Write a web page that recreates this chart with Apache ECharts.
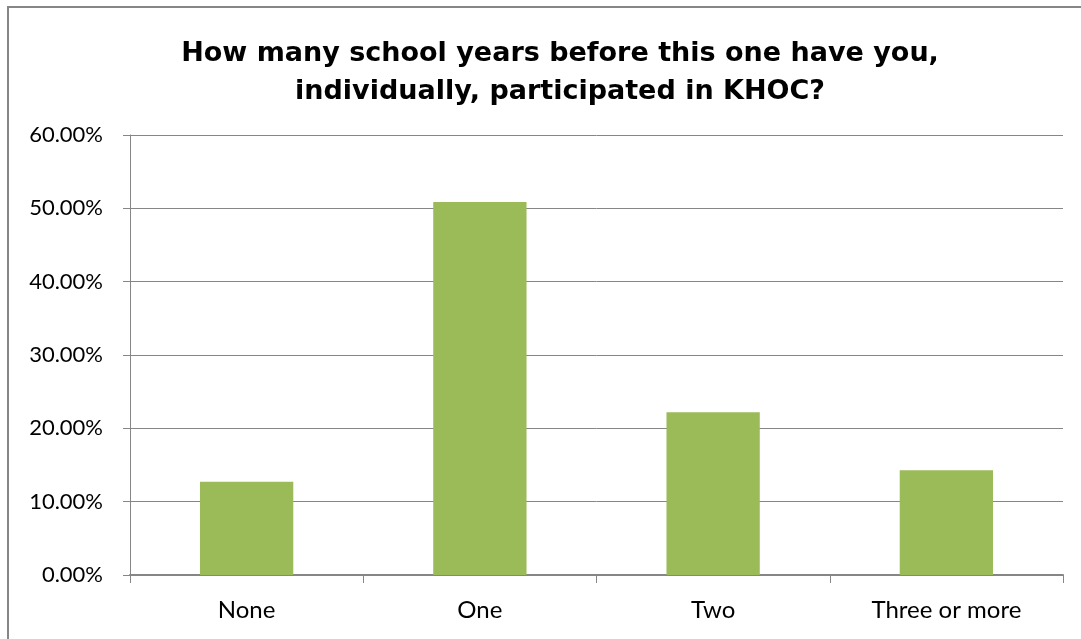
<!DOCTYPE html>
<html>
<head>
<meta charset="utf-8">
<script src="https://cdn.jsdelivr.net/npm/echarts@6/dist/echarts.min.js"></script>
<style>
  html, body { margin: 0; padding: 0; background: #fff; }
  #chart { width: 1081px; height: 639px; }
</style>
</head>
<body>
<div id="chart"></div>
<script>
// Survey answers: prior school years of KHOC participation
const categories = ['None', 'One', 'Two', 'Three or more'];
const shares = [12.7, 50.85, 22.2, 14.3];   // percent of respondents
const titleText = 'How many school years before this one have you,\nindividually, participated in KHOC?';

const chart = echarts.init(document.getElementById('chart'), null, { renderer: 'canvas' });
const gray = '#868686';
const labelFont = 'Lato, "Open Sans", sans-serif';

chart.setOption({
  animation: false,
  backgroundColor: '#ffffff',
  graphic: [{
    type: 'rect',
    shape: { x: 8, y: 7, width: 1200, height: 800 },
    style: { fill: 'none', stroke: gray, lineWidth: 2 },
    silent: true
  }],
  title: {
    text: titleText,
    left: 555,
    textAlign: 'center',
    top: 30,
    textStyle: {
      fontFamily: '"DejaVu Sans", sans-serif',
      fontWeight: 'bold',
      fontSize: 27,
      lineHeight: 38,
      color: '#000'
    }
  },
  grid: { left: 130, right: 18, top: 135, bottom: 64 },
  xAxis: {
    type: 'category',
    data: categories,
    axisLine: { lineStyle: { color: gray, width: 2 } },
    axisTick: { show: true, length: 8, lineStyle: { color: gray, width: 1 } },
    axisLabel: {
      margin: 23,
      fontSize: 24,
      color: '#000',
      fontFamily: labelFont
    }
  },
  yAxis: {
    type: 'value',
    min: 0,
    max: 60,
    interval: 10,
    axisLine: { show: true, lineStyle: { color: gray, width: 1 } },
    axisTick: { show: true, length: 7, lineStyle: { color: gray } },
    splitLine: { show: true, lineStyle: { color: gray, width: 1 } },
    axisLabel: {
      margin: 27,
      fontSize: 22,
      color: '#000',
      fontFamily: labelFont,
      formatter: v => v.toFixed(2) + '%'
    }
  },
  series: [{
    type: 'bar',
    data: shares,
    barWidth: '40%',
    itemStyle: { color: '#9BBB59' }
  }]
});
</script>
</body>
</html>
